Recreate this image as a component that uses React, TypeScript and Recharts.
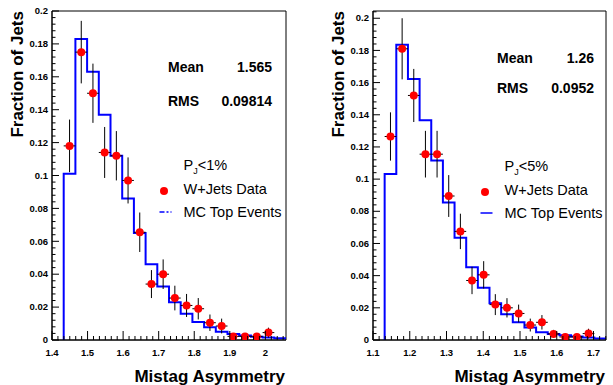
import React from 'react';
import { ComposedChart, Line, Scatter, ErrorBar, XAxis, YAxis, ReferenceArea } from 'recharts';

const FONT = '"Liberation Sans", Arial, Helvetica, sans-serif';

// ---- P_J < 1% panel ----
const edgesLoose = [
  1.4, 1.4329, 1.4658, 1.4987, 1.5316, 1.5645, 1.5974, 1.6303, 1.6632, 1.6961, 1.729,
  1.7619, 1.7948, 1.8277, 1.8606, 1.8935, 1.9264, 1.9593, 1.9922, 2.0251, 2.058,
];
const mcLoose = [
  0, 0.101, 0.183, 0.163, 0.137, 0.112, 0.086, 0.065, 0.046, 0.0325,
  0.023, 0.016, 0.011, 0.0077, 0.005, 0.0036, 0.0028, 0.002, 0.0015, 0.001,
];
const dataLoose = [
  null, 0.118, 0.175, 0.15, 0.114, 0.112, 0.097, 0.0655, 0.034, 0.04,
  0.0255, 0.021, 0.019, 0.0105, 0.0085, 0.0022, 0.0022, 0.0022, 0.0045, null,
];
const errLoose = [
  0, 0.016, 0.019, 0.018, 0.0155, 0.015, 0.014, 0.012, 0.0085, 0.009,
  0.0075, 0.007, 0.0065, 0.005, 0.0045, 0.002, 0.002, 0.002, 0.003, 0,
];

// ---- P_J < 5% panel ----
const edgesTight = [
  1.1, 1.1317, 1.1634, 1.1951, 1.2268, 1.2585, 1.2902, 1.3219, 1.3536, 1.3853, 1.417,
  1.4487, 1.4804, 1.5121, 1.5438, 1.5755, 1.6072, 1.6389, 1.6706, 1.7023, 1.734,
];
const mcTight = [
  0, 0.1032, 0.1835, 0.1623, 0.1366, 0.1115, 0.0854, 0.0636, 0.0452, 0.0325,
  0.0228, 0.016, 0.011, 0.0077, 0.0048, 0.0037, 0.003, 0.0022, 0.0015, 0.001,
];
const dataTight = [
  null, 0.1265, 0.181, 0.152, 0.1155, 0.1155, 0.0895, 0.0675, 0.037, 0.0405,
  0.022, 0.02, 0.0165, 0.0093, 0.011, 0.0038, 0.0019, 0.0019, 0.004, null,
];
const errTight = [
  0, 0.015, 0.019, 0.0165, 0.0145, 0.0145, 0.013, 0.011, 0.0085, 0.0085,
  0.0065, 0.006, 0.0055, 0.004, 0.0045, 0.0025, 0.0018, 0.0018, 0.003, 0,
];

type Pt = { x: number; y: number; ex?: number; ey?: number };

// step outline of the MC histogram, starting from the baseline at the first filled bin
function histOutline(edges: number[], vals: number[]): Pt[] {
  const first = vals.findIndex((v) => v > 0);
  const pts: Pt[] = [{ x: edges[first], y: 0 }];
  for (let i = first; i < vals.length; i++) pts.push({ x: edges[i], y: vals[i] });
  pts.push({ x: edges[vals.length], y: vals[vals.length - 1] });
  return pts;
}

function dataPoints(edges: number[], vals: (number | null)[], errs: number[]): Pt[] {
  const out: Pt[] = [];
  vals.forEach((v, i) => {
    if (v == null) return;
    const lo = edges[i];
    const hi = edges[i + 1];
    out.push({ x: (lo + hi) / 2, y: v, ex: (hi - lo) / 2, ey: errs[i] });
  });
  return out;
}

function tickList(lo: number, hi: number, step: number) {
  const out: number[] = [];
  for (let k = 0; lo + k * step <= hi + 1e-9; k++) out.push(+(lo + k * step).toFixed(6));
  return out;
}

const isMajor = (v: number, step: number) => Math.abs(v / step - Math.round(v / step)) < 1e-6;

const XTick = (props: any) => {
  const { x, y, payload } = props;
  const major = isMajor(payload.value, 0.1);
  return (
    <g>
      <line x1={x} x2={x} y1={y} y2={y - (major ? 9 : 4)} stroke="#000" strokeWidth={1} />
      {major && (
        <text x={x} y={y + 16} textAnchor="middle" fontSize={9.5} fontWeight="bold" fontFamily={FONT} fill="#000">
          {String(Number(payload.value.toFixed(1)))}
        </text>
      )}
    </g>
  );
};

const YTick = (props: any) => {
  const { x, y, payload } = props;
  const major = isMajor(payload.value, 0.02);
  return (
    <g>
      <line x1={x} x2={x + (major ? 7 : 3.5)} y1={y} y2={y} stroke="#000" strokeWidth={1} />
      {major && (
        <text x={x - 4} y={y + 3.2} textAnchor="end" fontSize={9.5} fontWeight="bold" fontFamily={FONT} fill="#000">
          {String(Number(payload.value.toFixed(2)))}
        </text>
      )}
    </g>
  );
};

type PanelProps = {
  left: number;
  width: number;
  yWidth: number;
  right: number;
  xDomain: [number, number];
  yMax: number;
  edges: number[];
  mc: number[];
  data: (number | null)[];
  errs: number[];
  mean: string;
  rms: string;
  cut: string;
  statsX: number;
  statsEnd: number;
  meanY: number;
  rmsY: number;
  legX: number;
  legY: number;
  dashed: boolean;
};

function Panel(p: PanelProps) {
  const hist = histOutline(p.edges, p.mc);
  const pts = dataPoints(p.edges, p.data, p.errs);
  const xt = tickList(p.xDomain[0], p.xDomain[1], 0.1 / 6);
  const yt = tickList(0, p.yMax, 0.004);
  const plotRight = p.width - p.right;
  return (
    <div style={{ position: 'absolute', left: p.left, top: 0, width: p.width, height: 385 }}>
      <ComposedChart width={p.width} height={385} margin={{ top: 11, right: p.right, bottom: 0, left: 0 }}>
        <XAxis
          type="number"
          dataKey="x"
          domain={p.xDomain}
          allowDataOverflow
          ticks={xt}
          interval={0}
          tick={(t: any) => <XTick {...t} />}
          tickLine={false}
          tickSize={0}
          tickMargin={0}
          height={45}
          axisLine={{ stroke: '#000' }}
          label={() => (
            <text x={plotRight - 1} y={382} textAnchor="end" fontSize={17} fontWeight="bold" fontFamily={FONT} fill="#000">
              Mistag Asymmetry
            </text>
          )}
        />
        <YAxis
          type="number"
          dataKey="y"
          domain={[0, p.yMax]}
          allowDataOverflow
          ticks={yt}
          interval={0}
          tick={(t: any) => <YTick {...t} />}
          tickLine={false}
          tickSize={0}
          tickMargin={0}
          width={p.yWidth}
          axisLine={{ stroke: '#000' }}
          label={() => (
            <text
              x={p.yWidth - 29}
              y={11}
              transform={`rotate(-90 ${p.yWidth - 29} 11)`}
              textAnchor="end"
              fontSize={17}
              fontWeight="bold"
              fontFamily={FONT}
              fill="#000"
            >
              Fraction of Jets
            </text>
          )}
        />
        <ReferenceArea x1={p.xDomain[0]} x2={p.xDomain[1]} y1={0} y2={p.yMax} fill="none" stroke="#000" strokeWidth={1} />
        <Line
          data={hist}
          dataKey="y"
          type="stepAfter"
          stroke="#0000ff"
          strokeWidth={2}
          dot={false}
          activeDot={false}
          isAnimationActive={false}
        />
        <Scatter
          data={pts}
          dataKey="y"
          isAnimationActive={false}
          shape={(s: any) => <circle cx={s.cx} cy={s.cy} r={4} fill="#ff0000" />}
        >
          <ErrorBar dataKey="ey" direction="y" width={0} stroke="#000" strokeWidth={1} isAnimationActive={false} />
          <ErrorBar dataKey="ex" direction="x" width={0} stroke="#000" strokeWidth={1} isAnimationActive={false} />
        </Scatter>
      </ComposedChart>
      <svg
        width={p.width}
        height={385}
        style={{ position: 'absolute', left: 0, top: 0, pointerEvents: 'none' }}
        fontFamily={FONT}
      >
        <g fontSize={14} fontWeight="bold" fill="#000">
          <text x={p.statsX} y={p.meanY}>Mean</text>
          <text x={p.statsEnd} y={p.meanY} textAnchor="end">{p.mean}</text>
          <text x={p.statsX} y={p.rmsY}>RMS</text>
          <text x={p.statsEnd} y={p.rmsY} textAnchor="end">{p.rms}</text>
        </g>
        <g fontSize={14.5} fill="#000">
          <text x={p.legX} y={p.legY}>
            P<tspan fontSize={9} dy={4}>J</tspan>
            <tspan dy={-4}>{'<' + p.cut}</tspan>
          </text>
          <circle cx={p.legX - 19.5} cy={p.legY + 21} r={4} fill="#ff0000" />
          <text x={p.legX} y={p.legY + 24}>W+Jets Data</text>
          <line
            x1={p.legX - 24}
            x2={p.legX - 12}
            y1={p.legY + 42}
            y2={p.legY + 42}
            stroke="#0000ff"
            strokeWidth={1.5}
            strokeDasharray={p.dashed ? '5 2 2 2' : undefined}
          />
          <text x={p.legX} y={p.legY + 47}>MC Top Events</text>
        </g>
      </svg>
    </div>
  );
}

export default function App() {
  return (
    <div style={{ position: 'absolute', left: 0, top: 0, width: 613, height: 385, background: '#fff', overflow: 'hidden' }}>
      <Panel
        left={0}
        width={300}
        yWidth={52}
        right={14}
        xDomain={[1.4, 2.058]}
        yMax={0.2}
        edges={edgesLoose}
        mc={mcLoose}
        data={dataLoose}
        errs={errLoose}
        mean="1.565"
        rms="0.09814"
        cut="1%"
        statsX={168}
        statsEnd={272}
        meanY={71.5}
        rmsY={105.5}
        legX={183.5}
        legY={170}
        dashed
      />
      <Panel
        left={300}
        width={313}
        yWidth={73}
        right={7}
        xDomain={[1.1, 1.734]}
        yMax={0.2045}
        edges={edgesTight}
        mc={mcTight}
        data={dataTight}
        errs={errTight}
        mean="1.26"
        rms="0.0952"
        cut="5%"
        statsX={197}
        statsEnd={294}
        meanY={62.5}
        rmsY={92.5}
        legX={204.5}
        legY={171}
        dashed={false}
      />
    </div>
  );
}
